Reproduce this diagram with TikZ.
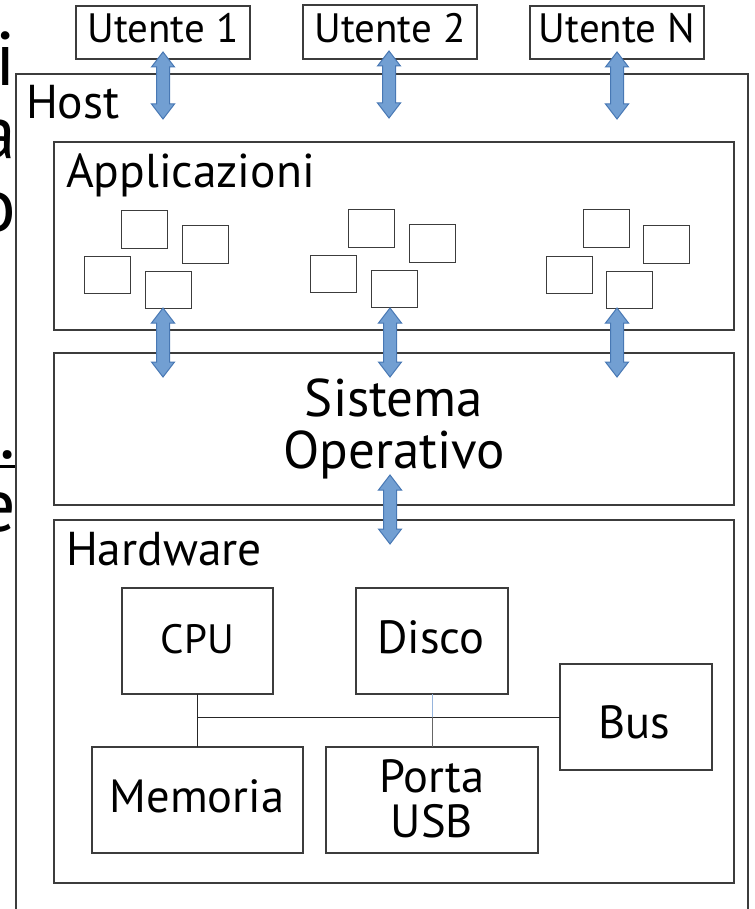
\documentclass[tikz,border=0pt]{standalone}
\usepackage{fontspec}
\setmainfont{PT Sans}
\usetikzlibrary{calc}
\definecolor{arrfill}{RGB}{114,159,210}
\definecolor{arrline}{RGB}{72,120,180}
\definecolor{boxline}{RGB}{60,60,60}
\definecolor{linkblue}{RGB}{150,180,220}
\begin{document}
\begin{tikzpicture}[x=1pt,y=-1pt,
  every node/.style={inner sep=0pt, outer sep=0pt},
  box/.style={draw=boxline, line width=1.2pt, fill=white, anchor=north west},
  sbox/.style={draw=boxline, line width=1pt, fill=white, anchor=north west, minimum width=46pt, minimum height=37pt},
  utxt/.style={font=\fontsize{41}{46}\selectfont, anchor=base},
  txt/.style={font=\fontsize{46.5}{50}\selectfont, anchor=base},
  ltxt/.style={font=\fontsize{47.5}{52}\selectfont, anchor=base west},
  bigtxt/.style={font=\fontsize{53}{58}\selectfont, anchor=base},
  edge/.style={font=\fontsize{76}{76}\selectfont, anchor=base east},
  wire/.style={draw=black!85, line width=1pt},
  blockarrow/.style={fill=arrfill, draw=arrline, line width=1pt, line join=miter,
    to path={let \p1=(\tikztostart), \p2=(\tikztotarget) in
      (\x1,\y1) -- (\x1+11.5pt,\y1-15pt) -- (\x1+6.5pt,\y1-15pt) -- (\x1+6.5pt,\y2+15pt)
      -- (\x1+11.5pt,\y2+15pt) -- (\x1,\y2) -- (\x1-11.5pt,\y2+15pt) -- (\x1-6.5pt,\y2+15pt)
      -- (\x1-6.5pt,\y1-15pt) -- (\x1-11.5pt,\y1-15pt) -- cycle}}
]
\useasboundingbox (0,0) rectangle (754,909);
\clip (0,0) rectangle (754,909);

% clipped text fragments at the left edge
\begin{scope}
  \clip (0,0) rectangle (16,909);
  \node[edge] (li) at (16,86) {i};
  \node[edge] (la) at (16,159) {a};
  \node[edge] (lo) at (16,231) {o};
  \node[edge] (ldot) at (16,458) {.};
  \node[edge] (le) at (16,531) {e};
  \draw[line width=3pt] (0,466) -- (15,466);
\end{scope}

% users
\node[box, minimum width=174pt, minimum height=53pt] (u1) at (76,6) {};
\node[box, minimum width=174pt, minimum height=54pt] (u2) at (303,5) {};
\node[box, minimum width=174pt, minimum height=53pt] (uN) at (530,6) {};
\node[utxt] (u1t) at (163,43) {Utente 1};
\node[utxt] (u2t) at (390,43) {Utente 2};
\node[utxt] (uNt) at (617,43) {Utente N};

% host and layers
\node[box, minimum width=732pt, minimum height=860pt] (host) at (16,74) {};
\node[ltxt] (hostt) at (26,119) {Host};

\node[box, minimum width=680pt, minimum height=188pt] (app) at (54,142) {};
\node[ltxt] (appt) at (66,188) {Applicazioni};

\node[box, minimum width=680pt, minimum height=152pt] (so) at (54,353) {};
\node[bigtxt] (sot1) at (394,416) {Sistema};
\node[bigtxt] (sot2) at (394,468) {Operativo};

\node[box, minimum width=680pt, minimum height=363pt] (hw) at (54,520) {};
\node[ltxt] (hwt) at (66,565) {Hardware};

% application boxes
\node[sbox] (p1a) at (121,211) {};
\node[sbox] (p1b) at (182,226) {};
\node[sbox] (p1c) at (84,256) {};
\node[sbox] (p1d) at (145,271) {};
\node[sbox] (p2a) at (348,210) {};
\node[sbox] (p2b) at (409,225) {};
\node[sbox] (p2c) at (310,255) {};
\node[sbox] (p2d) at (371,270) {};
\node[sbox] (p3a) at (583,210) {};
\node[sbox] (p3b) at (643,226) {};
\node[sbox] (p3c) at (546,256) {};
\node[sbox] (p3d) at (606,271) {};

% hardware components
\node[box, minimum width=151pt, minimum height=106pt] (cpu) at (122,588) {};
\node[box, minimum width=152pt, minimum height=106pt] (disco) at (356,588) {};
\node[box, minimum width=152pt, minimum height=106pt] (bus) at (560,664) {};
\node[box, minimum width=211pt, minimum height=106pt] (mem) at (92,747) {};
\node[box, minimum width=212pt, minimum height=106pt] (porta) at (326,747) {};
\node[utxt] (cput) at (197.5,653) {CPU};
\node[txt] (discot) at (431,653) {Disco};
\node[txt] (bust) at (634,738) {Bus};
\node[txt] (memt) at (197,812) {Memoria};
\node[txt] (portat1) at (432,792) {Porta};
\node[txt] (portat2) at (432,837) {USB};

% bus wiring
\coordinate (j1) at (cpu.south |- bus.west);
\coordinate (j2) at (disco.south |- bus.west);
\draw[wire] (j1) -- (bus.west);
\draw[wire] (cpu.south) -- (mem.north);
\draw[draw=linkblue, line width=1pt] (disco.south) -- (j2);
\draw[draw=black!60, line width=1pt] (j2) -- (porta.north);

% block arrows
\coordinate (a1t) at (163,52);  \coordinate (a1b) at (163,119);
\coordinate (a2t) at (389,51);  \coordinate (a2b) at (389,118);
\coordinate (a3t) at (617,52);  \coordinate (a3b) at (617,119);
\coordinate (m1t) at (163,308); \coordinate (m1b) at (163,377);
\coordinate (m2t) at (390,308); \coordinate (m2b) at (390,377);
\coordinate (m3t) at (617,308); \coordinate (m3b) at (617,377);
\coordinate (bt) at (390,475);  \coordinate (bb) at (390,544);
\draw[blockarrow] (a1t) to (a1b);
\draw[blockarrow] (a2t) to (a2b);
\draw[blockarrow] (a3t) to (a3b);
\draw[blockarrow] (m1t) to (m1b);
\draw[blockarrow] (m2t) to (m2b);
\draw[blockarrow] (m3t) to (m3b);
\draw[blockarrow] (bt) to (bb);
\end{tikzpicture}
\end{document}
